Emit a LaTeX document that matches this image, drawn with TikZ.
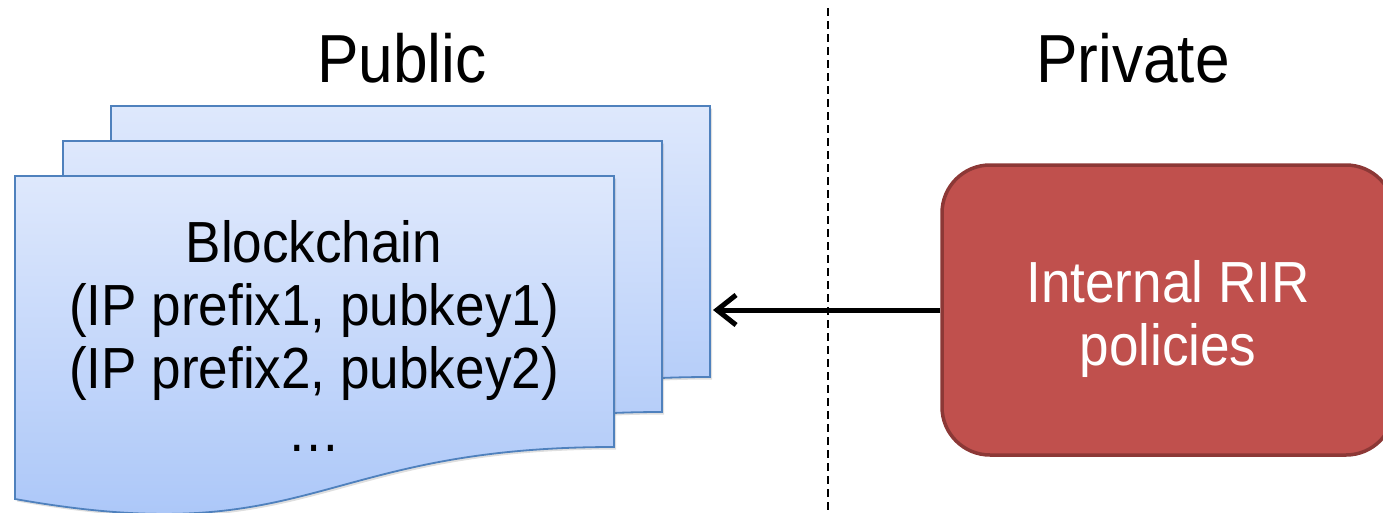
\documentclass[tikz,border=0pt]{standalone}
\usepackage{fontspec}
\setmainfont{Liberation Sans}[FakeStretch=0.915]
\usetikzlibrary{arrows.meta,shadows}

\definecolor{pagetop}{HTML}{DEE8FC}
\definecolor{pagebot}{HTML}{A7C4F8}
\definecolor{pageline}{HTML}{4F81BD}
\definecolor{polfill}{HTML}{C0504D}
\definecolor{polline}{HTML}{8C3836}

\tikzset{
  docpage/.style={draw=pageline, line width=1.8pt, line join=miter,
    top color=pagetop, bottom color=pagebot,
    drop shadow={shadow xshift=2pt, shadow yshift=-2.5pt, opacity=0.25}},
  headtext/.style={inner sep=0pt, anchor=base, font=\fontsize{68}{80}\selectfont},
  bodytext/.style={inner sep=0pt, anchor=base, align=center,
    font=\fontsize{58}{63}\selectfont},
  policybox/.style={draw=polline, fill=polfill, line width=3.5pt,
    rounded corners=48pt, minimum width=452pt, minimum height=290pt,
    inner sep=0pt},
  divider/.style={line width=1.3pt, dash pattern=on 8pt off 5pt},
  feed/.style={line width=5pt,
    -{Straight Barb[length=19pt,width=30pt,line width=5pt]}}
}

\begin{document}
\begin{tikzpicture}[x=1pt, y=-1pt]
  \useasboundingbox (0,0) rectangle (1383,512);

  % stack of three document pages, back to front
  \foreach \dx/\dy in {96/-70, 48/-35, 0/0} {
    \path[docpage, shift={(\dx,\dy)}]
      (15,176) -- (614,176) -- (614,447)
      .. controls (314,447) and (314,552) .. (15,499) -- cycle;
  }
  \coordinate (stackR) at (713,310);

  % contents of the front page (base anchor = last line's baseline)
  \node[bodytext] (chain) at (314,451)
    {Blockchain\\(IP prefix1, pubkey1)\\(IP prefix2, pubkey2)\\…};

  % public / private divider
  \coordinate (divtop) at (828,8);
  \coordinate (divbot) at (828,512);
  \draw[divider] (divtop) -- (divbot);

  % headings
  \node[headtext] (pub) at (402,82) {Public};
  \node[headtext] (priv) at (1133,82) {Private};

  % private policy box
  \node[policybox] (pol) at (1168,310) {};
  \node[bodytext, text=white] (poltext) at (1168,365) {Internal RIR\\policies};

  % policies feed the public chain
  \draw[feed] (pol.west) -- (stackR);
\end{tikzpicture}
\end{document}
